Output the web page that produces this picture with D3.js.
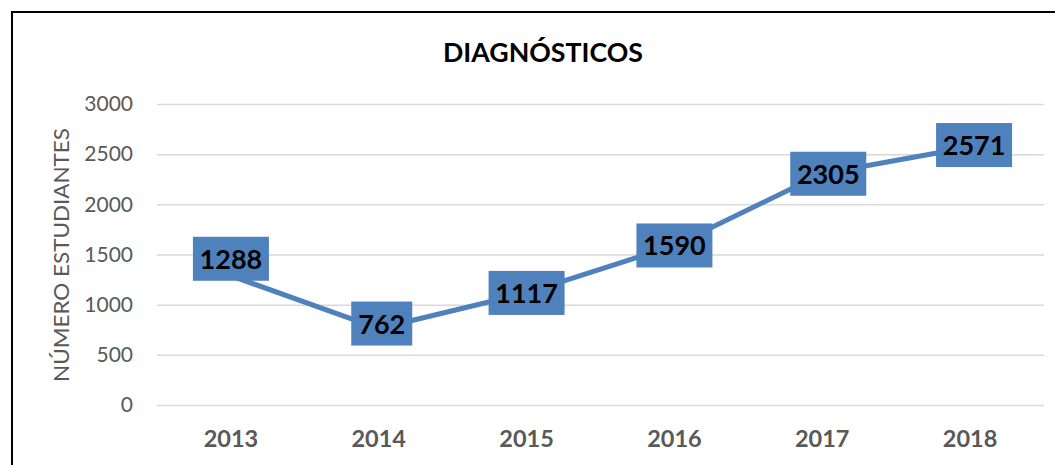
<!DOCTYPE html>
<html>
<head>
<meta charset="utf-8">
<script src="https://cdn.jsdelivr.net/npm/d3@7"></script>
<style>
  body { margin: 0; background: #fff; }
  text { font-family: Lato, "Open Sans", sans-serif; }
</style>
</head>
<body>
<div id="chart"></div>
<script>
const years = ["2013", "2014", "2015", "2016", "2017", "2018"];
const students = [1288, 762, 1117, 1590, 2305, 2571];
const yTicks = [0, 500, 1000, 1500, 2000, 2500, 3000];

const width = 1055;
const height = 465;
const blue = "#4F81BD";

// a couple of labels sit slightly off their point in the original
const labelShift = { "2013": [0, -17], "2014": [3, -5], "2017": [6, 0], "2018": [4, -2] };

const svg = d3.select("#chart").append("svg")
    .attr("width", width)
    .attr("height", height);

// frame (runs off the right and bottom edges)
svg.append("rect")
    .attr("x", 12).attr("y", 12)
    .attr("width", width + 20).attr("height", height + 20)
    .attr("fill", "none")
    .attr("stroke", "#000")
    .attr("stroke-width", 2);

const x = d3.scaleBand()
    .domain(years)
    .range([157, 1044]);

const y = d3.scaleLinear()
    .domain([0, 3000])
    .range([405, 104]);

// gridlines + y labels
const yAxis = d3.axisLeft(y)
    .tickValues(yTicks)
    .tickFormat(d3.format("d"))
    .tickSize(-(1044 - 157))
    .tickPadding(24);

const gy = svg.append("g")
    .attr("transform", "translate(157,0)")
    .call(yAxis);
gy.select(".domain").remove();
gy.selectAll(".tick line")
    .attr("stroke", "#D9D9D9")
    .attr("stroke-width", 1.5);
gy.selectAll(".tick text")
    .attr("fill", "#595959")
    .style("font-size", "21px")
    .style("font-family", "Lato, sans-serif");

// x labels
const xAxis = d3.axisBottom(x).tickSize(0).tickPadding(0);
const gx = svg.append("g")
    .attr("transform", "translate(0,405)")
    .call(xAxis);
gx.select(".domain").remove();
gx.selectAll(".tick text")
    .attr("dy", null)
    .attr("y", 42)
    .attr("fill", "#595959")
    .style("font-size", "23.5px")
    .style("font-weight", "bold")
    .style("font-family", "Lato, sans-serif");

// title
svg.append("text")
    .attr("x", 543)
    .attr("y", 62)
    .attr("text-anchor", "middle")
    .attr("textLength", 200)
    .attr("lengthAdjust", "spacingAndGlyphs")
    .style("font-size", "26px")
    .style("font-weight", "bold")
    .attr("fill", "#000")
    .text("DIAGNÓSTICOS");

// axis title
svg.append("text")
    .attr("transform", "translate(69,255) rotate(-90)")
    .attr("text-anchor", "middle")
    .attr("textLength", 254)
    .attr("lengthAdjust", "spacingAndGlyphs")
    .style("font-size", "22px")
    .attr("fill", "#595959")
    .text("NÚMERO ESTUDIANTES");

// line
const cx = d => x(d) + x.bandwidth() / 2;
const line = d3.line()
    .x((d, i) => cx(years[i]))
    .y(d => y(d));

svg.append("path")
    .datum(students)
    .attr("d", line)
    .attr("fill", "none")
    .attr("stroke", blue)
    .attr("stroke-width", 5)
    .attr("stroke-linejoin", "round");

// data labels
const labels = svg.selectAll(".lbl")
    .data(students)
    .enter()
    .append("g")
    .attr("class", "lbl")
    .attr("transform", (d, i) => {
        const s = labelShift[years[i]] || [0, 0];
        return "translate(" + (cx(years[i]) + s[0]) + "," + (y(d) + s[1]) + ")";
    });

labels.append("rect")
    .attr("x", d => String(d).length > 3 ? -38 : -30.5)
    .attr("y", -22)
    .attr("width", d => String(d).length > 3 ? 76 : 61)
    .attr("height", 44)
    .attr("fill", blue);

labels.append("text")
    .attr("text-anchor", "middle")
    .attr("y", 10)
    .style("font-size", "27px")
    .style("font-weight", "bold")
    .attr("fill", "#000")
    .text(d => d);
</script>
</body>
</html>
